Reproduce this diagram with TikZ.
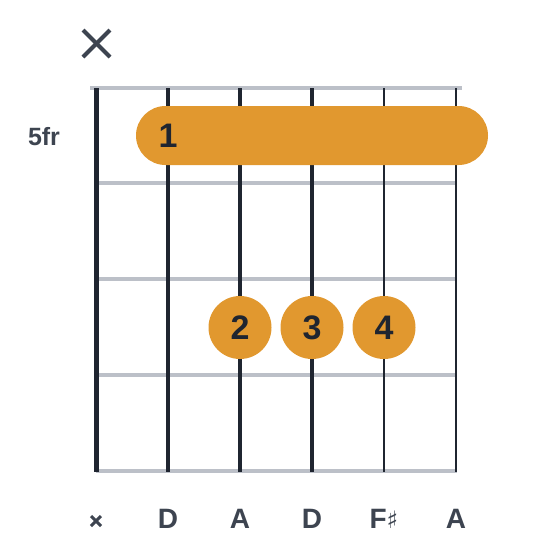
\documentclass[tikz,border=0pt]{standalone}
\usepackage{fontspec}
\setmainfont{Liberation Sans}
\newfontfamily\symfont{DejaVu Sans}
\definecolor{fretgray}{HTML}{BCC0C8}
\definecolor{strdark}{HTML}{1F2530}
\definecolor{lbl}{HTML}{3D4450}
\definecolor{fing}{HTML}{E1982F}
\begin{document}
\begin{tikzpicture}[x=1pt,y=-1pt,
  fret/.style={draw=fretgray,line width=3.5pt},
  str/.style={draw=strdark},
  finger/.style={circle,fill=fing,minimum size=63pt,inner sep=0pt,font=\fontsize{34}{34}\selectfont\bfseries,text=strdark},
  note/.style={font=\fontsize{28}{28}\selectfont\bfseries,text=lbl},
  xmark/.style={draw=lbl,line width=4pt}]
\useasboundingbox (0,0) rectangle (560,560);
% frets
\draw[fret] (90,88) -- (462,88);
\foreach \y in {183,279,375,471} \draw[fret] (96,\y) -- (457,\y);
% strings
\draw[str,line width=5pt] (96,88) -- (96,472);
\draw[str,line width=4pt] (168,88) -- (168,472);
\draw[str,line width=3.6pt] (240,88) -- (240,472);
\draw[str,line width=3.2pt] (312,88) -- (312,472);
\draw[str,line width=2.8pt] (384,88) -- (384,472);
\draw[str,line width=2.3pt] (456,88) -- (456,472);
% barre
\fill[fing,rounded corners=29.5pt] (136,106) rectangle (488,165);
\node[text=strdark,font=\fontsize{34}{34}\selectfont\bfseries] (b1) at (168,136) {1};
% fingers
\node[finger] (f2) at (240,327.5) {2};
\node[finger] (f3) at (312,327.5) {3};
\node[finger] (f4) at (384,327.5) {4};
% fret label
\node[text=lbl,font=\fontsize{25}{25}\selectfont\bfseries] (fr) at (44,136.5) {5fr};
% top X
\coordinate (xc) at (96.5,43.5);
\draw[xmark] (83,30) -- (110,57);
\draw[xmark] (83,57) -- (110,30);
% bottom labels
\draw[draw=lbl,line width=3pt] (91,516) -- (101,526);
\draw[draw=lbl,line width=3pt] (91,526) -- (101,516);
\node[note] (n2) at (168,519) {D};
\node[note] (n3) at (240,519) {A};
\node[note] (n4) at (312,519) {D};
\node[note] (n5) at (384,519) {F\raisebox{0.5pt}{\symfont\fontsize{24}{24}\selectfont\mdseries ♯}};
\node[note] (n6) at (456,519) {A};
\end{tikzpicture}
\end{document}
